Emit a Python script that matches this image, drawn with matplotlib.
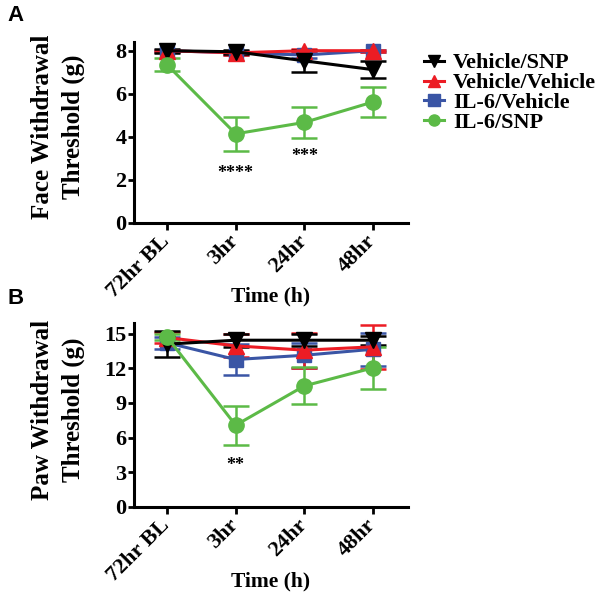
import matplotlib.pyplot as plt
from matplotlib.lines import Line2D
import numpy as np

plt.rcParams['font.family'] = ['Liberation Serif', 'DejaVu Serif']
plt.rcParams['font.weight'] = 'bold'

times = ['72hr BL', '3hr', '24hr', '48hr']
groups = ['Vehicle/SNP', 'Vehicle/Vehicle', 'IL-6/Vehicle', 'IL-6/SNP']
colors = ['black', '#ec1c24', '#3a55a5', '#5cba47']
markers = ['v', '^', 's', 'o']
msizes = [11, 11, 10, 11]

# face withdrawal threshold (g), mean and error
face_snp = [8.0, 7.95, 7.53, 7.12]
face_snp_err = [0.1, 0.1, 0.5, 0.38]
face_veh = [8.0, 7.9, 8.0, 8.0]
face_veh_err = [0.05, 0.1, 0.1, 0.05]
face_il6veh = [8.0, 7.9, 7.8, 8.0]
face_il6veh_err = [0.05, 0.1, 0.15, 0.05]
face_il6snp = [7.35, 4.14, 4.67, 5.62]
face_il6snp_err = [0.3, 0.78, 0.71, 0.7]

# paw withdrawal threshold (g), mean and error
paw_snp = [14.08, 14.42, 14.42, 14.42]
paw_snp_err = [1.1, 0.55, 0.5, 0.4]
paw_veh = [14.65, 13.93, 13.56, 13.85]
paw_veh_err = [0.5, 1.0, 1.5, 1.9]
paw_il6veh = [14.2, 12.75, 13.12, 13.64]
paw_il6veh_err = [0.5, 1.3, 1.07, 1.44]
paw_il6snp = [14.7, 7.07, 10.47, 12.03]
paw_il6snp_err = [0.3, 1.7, 1.6, 1.8]

face_stars = {1: ('****', 2.3), 2: ('***', 3.1)}
paw_stars = {1: ('**', 3.6)}

x = np.arange(len(times))

fig = plt.figure(figsize=(6.05, 5.97), dpi=100)
axA = fig.add_axes([0.2215, 0.6265, 0.453, 0.303])
axB = fig.add_axes([0.2215, 0.1508, 0.453, 0.308])


def draw(ax, means, errs, ylim, yticks, ylabel, stars):
    for i in [2, 1, 0, 3]:
        ax.errorbar(x, means[i], yerr=errs[i], color=colors[i], marker=markers[i],
                    markersize=msizes[i], linewidth=2.2, elinewidth=1.8, capsize=9.5,
                    capthick=1.8, clip_on=False)
    for k, (s, yv) in stars.items():
        ax.text(x[k], yv, s, ha='center', va='center', fontsize=13, fontweight='bold')
    ax.set_xlim(-0.48, 3.51)
    ax.set_ylim(*ylim)
    ax.set_yticks(yticks)
    ax.set_xticks(x)
    ax.set_xticklabels(times, rotation=45, ha='right', va='center', rotation_mode='anchor')
    ax.set_ylabel(ylabel, fontsize=18, fontweight='bold', linespacing=1.45)
    ax.yaxis.set_label_coords(-0.178, 0.53)
    ax.set_xlabel('Time (h)', fontsize=15.5, fontweight='bold')
    ax.xaxis.set_label_coords(0.5, -0.35)
    for s in ['top', 'right']:
        ax.spines[s].set_visible(False)
    for s in ['left', 'bottom']:
        ax.spines[s].set_linewidth(2.2)
    ax.tick_params(width=2.0, labelsize=16)
    ax.tick_params(axis='y', length=4, pad=1.5)
    ax.tick_params(axis='x', length=5, pad=6)


draw(axA, [face_snp, face_veh, face_il6veh, face_il6snp],
     [face_snp_err, face_veh_err, face_il6veh_err, face_il6snp_err],
     (0, 8.4), [0, 2, 4, 6, 8], 'Face Withdrawal\nThreshold (g)', face_stars)
draw(axB, [paw_snp, paw_veh, paw_il6veh, paw_il6snp],
     [paw_snp_err, paw_veh_err, paw_il6veh_err, paw_il6snp_err],
     (0, 15.9), [0, 3, 6, 9, 12, 15], 'Paw Withdrawal\nThreshold (g)', paw_stars)

handles = [Line2D([], [], color=colors[i], marker=markers[i], markersize=8, linewidth=2.2)
           for i in range(4)]
fig.legend(handles, groups, loc='upper left', bbox_to_anchor=(0.668, 0.945),
           frameon=False, handlelength=0.9, handletextpad=0.4, labelspacing=-0.03,
           prop={'weight': 'bold', 'size': 16})

fig.text(0.013, 0.965, 'A', fontsize=16, fontweight='bold', family='Liberation Sans')
fig.text(0.013, 0.49, 'B', fontsize=16, fontweight='bold', family='Liberation Sans')

fig.savefig('out.png', dpi=100)
